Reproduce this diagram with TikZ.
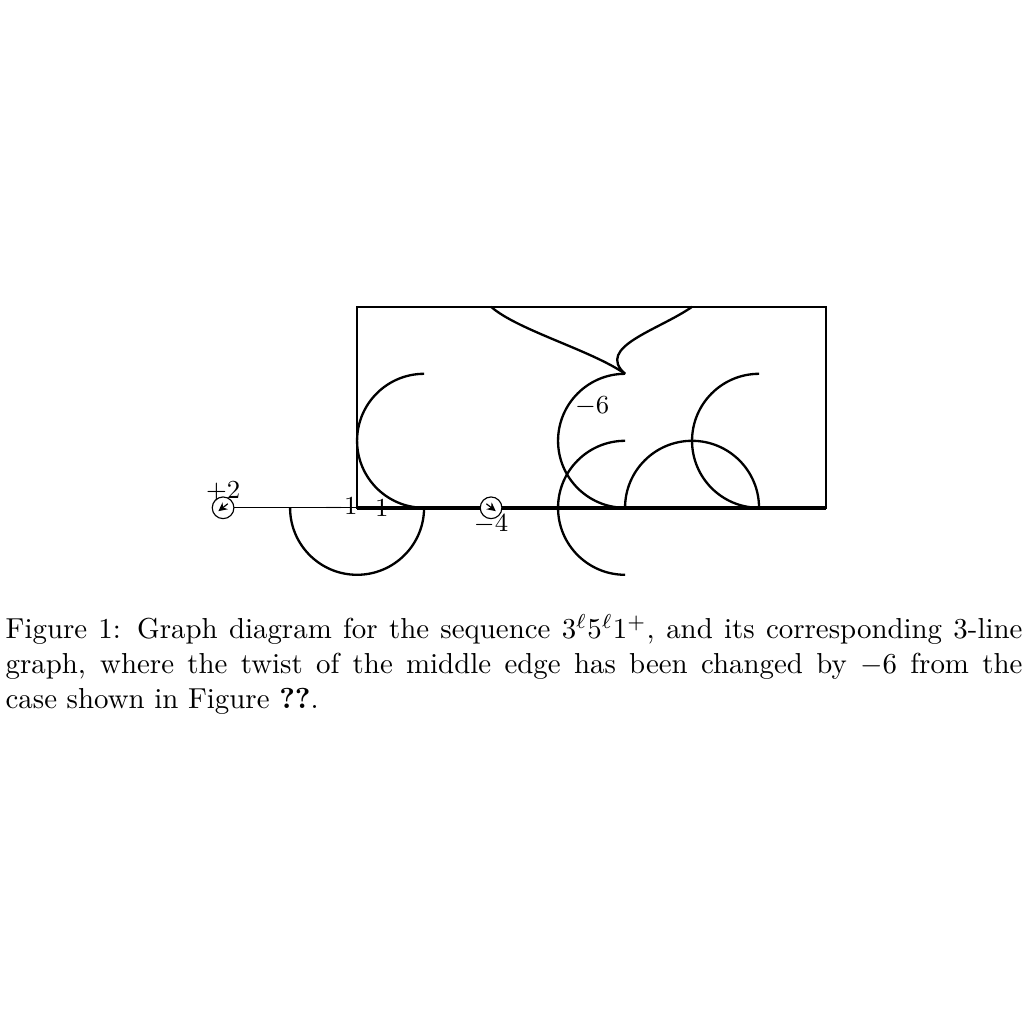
\documentclass[tikz,border=0pt]{standalone}
\usepackage{amsmath,amssymb}
\usetikzlibrary{arrows.meta}

\begin{document}
\begin{tikzpicture}[x=0.8151cm, y=0.8151cm,
  twist/.style={draw, circle, fill=white, inner sep=0pt, minimum size=7.5pt},
  lbl/.style={font=\small, inner sep=0pt}]
\useasboundingbox (-5.33,-7.70) rectangle (9.955,7.58);

\coordinate (O) at (0,0);
\coordinate (E) at (7,0);
\coordinate (T) at (4,2);

\draw[thick] (O) rectangle (7,3);
\draw[thin] (-2,0) -- (O);
\draw[very thick] (O) -- (E);

%% arcs
\draw[thick] (1,2) arc[start angle=90, end angle=270, radius=1];
\draw[thick] (-1,0) arc[start angle=180, end angle=360, radius=1];
\draw[thick] (T) arc[start angle=90, end angle=270, radius=1];
\draw[thick] (4,1) arc[start angle=90, end angle=270, radius=1];
\draw[thick] (4,0) arc[start angle=180, end angle=0, radius=1];
\draw[thick] (6,2) arc[start angle=90, end angle=270, radius=1];

%% twisted edge
\draw[thick] (2,3) .. controls (2.4,2.65) and (3.5,2.35) .. (T);
\draw[thick] (5,3) .. controls (4.5,2.65) and (3.55,2.4) .. (T);

\node[twist] (L) at (-2,0) {};
\node[twist] (M) at (2,0) {};
\draw[-{Stealth[length=3pt,width=3pt]}] (-1.93,0.06) -- (-2.07,-0.05);
\draw[-{Stealth[length=3pt,width=3pt]}] (1.93,0.06) -- (2.07,-0.05);

\node[lbl] (l2) at (-2,0.24) {$+2$};
\node[lbl] (l4) at (2,-0.24) {$-4$};
\node[lbl] (lm1) at (-0.25,0) {$-1$};
\node[lbl] (lp1) at (0.37,0) {$1$};
\node[lbl] (l6) at (3.51,1.51) {$-6$};

\node[anchor=north west, inner sep=0pt, text width=352pt, align=justify] (cap) at (-5.254,-1.58)
  {Figure 1: Graph diagram for the sequence $3^\ell5^\ell1^+$, and its corresponding 3-line graph, where the twist of the middle edge has been changed by $-6$ from the\linebreak{} case shown in Figure \textbf{??}.};
\end{tikzpicture}
\end{document}
